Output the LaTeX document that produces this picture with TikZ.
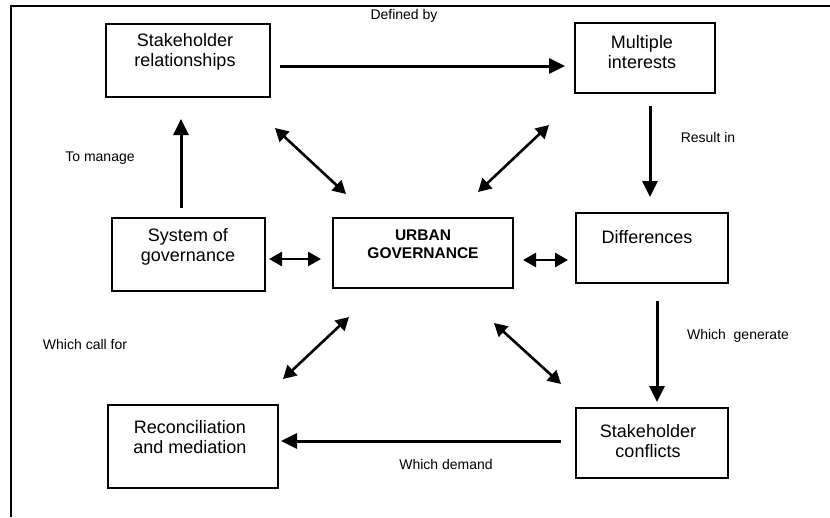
\documentclass[tikz,border=0pt]{standalone}
\usepackage{fontspec}
\setmainfont{Liberation Sans}
\usepackage{tikz}
\usetikzlibrary{arrows.meta}

\tikzset{
  box/.style={draw, line width=2pt, inner sep=0pt},
  boxtext/.style={align=center, inner sep=0pt, font=\fontsize{18}{20}\selectfont},
  maintext/.style={align=center, inner sep=0pt, font=\bfseries\fontsize{15.5}{18}\selectfont},
  linklabel/.style={inner sep=0pt, font=\fontsize{14}{16}\selectfont},
  oneway/.style={line width=3pt, -{Triangle[length=16pt,width=15pt]}},
  twoway/.style={line width=2.6pt, {Triangle[length=13pt,width=14pt]}-{Triangle[length=13pt,width=14pt]}}
}

\begin{document}
\begin{tikzpicture}[x=1pt, y=-1pt]
\useasboundingbox (0,0) rectangle (830,517);
\coordinate (frame-tl) at (11,6);
\draw[line width=1.2pt] (830,6) -- (frame-tl) -- (11,517);

\node (rel) at (188,60.5) [box, minimum width=164, minimum height=73] {};
\node (multi) at (645,58) [box, minimum width=140, minimum height=70] {};
\node (sys) at (188.5,254.5) [box, minimum width=153, minimum height=73] {};
\node (urban) at (423,253) [box, minimum width=180, minimum height=70] {};
\node (diff) at (652,248) [box, minimum width=152, minimum height=70] {};
\node (recon) at (193,446.5) [box, minimum width=170, minimum height=83] {};
\node (confl) at (652,443) [box, minimum width=152, minimum height=70] {};

\node (rel-t) at (185,52) [boxtext] {Stakeholder\\relationships};
\node (multi-t) at (642,52) [boxtext] {Multiple\\interests};
\node (sys-t) at (188,247) [boxtext] {System of\\governance};
\node (urban-t) at (423,244) [maintext] {URBAN\\GOVERNANCE};
\node (diff-t) at (647,237) [boxtext] {Differences};
\node (recon-t) at (190,437) [boxtext] {Reconciliation\\and mediation};
\node (confl-t) at (648,441) [boxtext] {Stakeholder\\conflicts};

\node (l-def) at (404,16) [linklabel] {Defined by};
\node (l-manage) at (100,158) [linklabel] {To manage};
\node (l-result) at (708,137) [linklabel] {Result in};
\node (l-gen) at (738,336) [linklabel] {Which~~generate};
\node (l-call) at (85,344) [linklabel] {Which call for};
\node (l-demand) at (446,464) [linklabel] {Which demand};

\draw[oneway] ([shift={(9,5.5)}]rel.east) -- ([shift={(-9,8)}]multi.west);
\draw[oneway] ([shift={(-7.5,-9)}]sys.north) -- ([shift={(-7,21)}]rel.south);
\draw[oneway] ([shift={(5,12)}]multi.south) -- ([shift={(-2,-15)}]diff.north);
\draw[oneway] ([shift={(5,17)}]diff.south) -- ([shift={(5,-5)}]confl.north);
\draw[oneway] ([shift={(-14,-2)}]confl.west) -- ([shift={(2,-5.5)}]recon.east);

\draw[twoway] ([shift={(4,30)}]rel.south east) -- ([shift={(14,-23)}]urban.north west);
\draw[twoway] ([shift={(-25,31)}]multi.south west) -- ([shift={(-36,-25)}]urban.north east);
\draw[twoway] ([shift={(3,4.5)}]sys.east) -- ([shift={(-11,6)}]urban.west);
\draw[twoway] ([shift={(9,7)}]urban.east) -- ([shift={(-7,12)}]diff.west);
\draw[twoway] ([shift={(17,28)}]urban.south west) -- ([shift={(4,-25)}]recon.north east);
\draw[twoway] ([shift={(-20,34)}]urban.south east) -- ([shift={(-14,-23)}]confl.north west);
\end{tikzpicture}
\end{document}
